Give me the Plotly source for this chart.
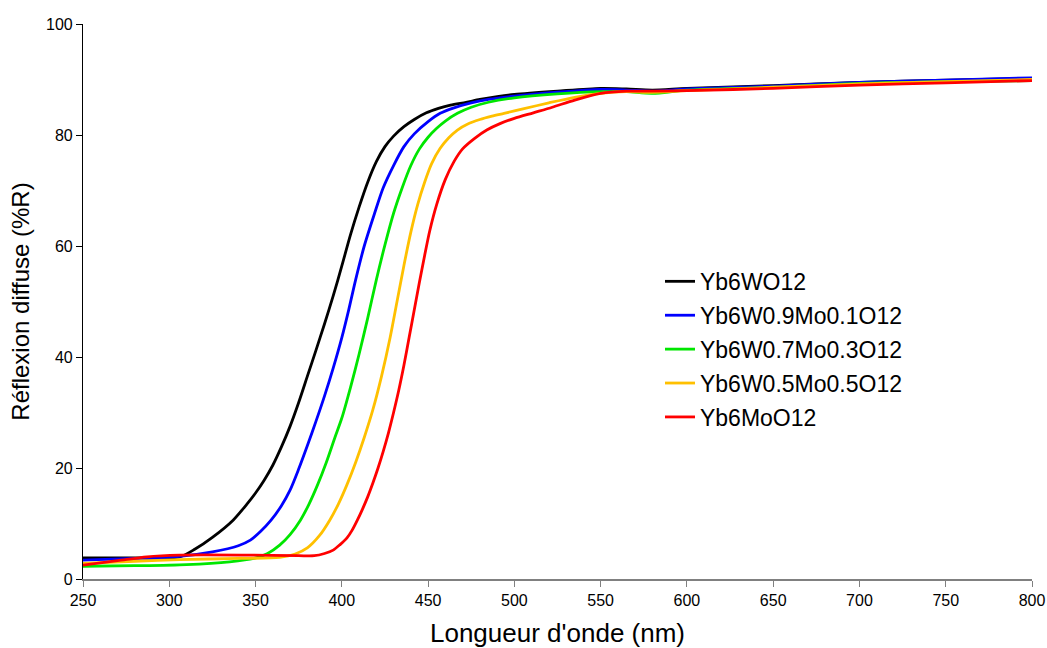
import plotly.graph_objects as go

names = ["Yb6WO12", "Yb6W0.9Mo0.1O12", "Yb6W0.7Mo0.3O12", "Yb6W0.5Mo0.5O12", "Yb6MoO12"]
colors = ["#000000", "#0000FF", "#00E600", "#FFC000", "#FF0000"]

x_black = [250, 280, 306, 315, 325, 337, 345, 350, 355, 360, 365, 370, 375, 380, 385, 390, 395, 400, 405, 410, 415, 420, 425, 430, 436, 442, 449, 456, 463, 472, 480, 490, 500, 525, 550, 565, 580, 600, 650, 700, 750, 800]
y_black = [3.8, 3.8, 4.0, 5.4, 7.5, 10.6, 13.5, 15.5, 17.8, 20.5, 23.8, 27.5, 31.8, 36.5, 41.2, 46.0, 51.0, 56.4, 62.0, 67.0, 71.5, 75.2, 77.9, 79.8, 81.5, 82.8, 84.0, 84.8, 85.4, 85.9, 86.4, 86.9, 87.3, 87.9, 88.4, 88.3, 88.1, 88.4, 88.9, 89.5, 89.9, 90.2]

x_blue = [250, 280, 306, 325, 340, 347, 353, 359, 365, 370, 375, 380, 385, 390, 395, 400, 404, 408, 413, 419, 424, 430, 436, 442, 450, 457, 465, 475, 485, 500, 525, 550, 565, 580, 600, 650, 700, 750, 800]
y_blue = [3.4, 3.7, 4.1, 4.9, 6.0, 7.0, 8.6, 10.6, 13.2, 16.0, 19.8, 24.0, 28.4, 33.0, 38.0, 43.5, 48.5, 53.9, 60.0, 65.9, 70.5, 74.5, 77.9, 80.2, 82.4, 83.9, 84.9, 85.8, 86.4, 87.0, 87.7, 88.2, 88.1, 87.9, 88.3, 88.8, 89.5, 89.9, 90.3]

x_green = [250, 280, 310, 335, 349, 357, 364, 370, 376, 381, 386, 391, 396, 400, 405, 410, 415, 420, 425, 430, 435, 440, 445, 450, 455, 460, 467, 475, 485, 500, 525, 550, 565, 580, 600, 650, 700, 750, 800]
y_green = [2.3, 2.4, 2.6, 3.1, 3.7, 4.6, 6.1, 8.0, 10.6, 13.5, 17.0, 21.0, 25.5, 29.0, 34.5, 40.5, 47.0, 53.9, 60.2, 65.9, 70.5, 74.5, 77.5, 79.6, 81.2, 82.5, 83.9, 85.0, 85.9, 86.7, 87.4, 87.8, 87.8, 87.5, 88.1, 88.6, 89.3, 89.6, 89.8]

x_yellow = [250, 280, 306, 340, 364, 373, 380, 387, 393, 398, 403, 408, 413, 418, 423, 428, 432, 436, 440, 444, 448, 452, 457, 462, 467, 473, 480, 487, 494, 505, 520, 535, 550, 565, 580, 600, 650, 700, 750, 800]
y_yellow = [2.8, 3.2, 3.5, 3.7, 3.9, 4.5, 5.6, 7.8, 10.6, 13.5, 17.0, 21.0, 25.5, 30.5, 36.5, 43.5, 50.0, 56.5, 62.5, 67.5, 71.5, 74.8, 77.6, 79.5, 80.9, 82.0, 82.8, 83.4, 83.9, 84.7, 85.8, 86.8, 87.5, 87.8, 87.7, 88.0, 88.6, 89.2, 89.6, 90.0]

x_red = [250, 270, 287, 306, 346, 375, 384, 390, 395, 399, 403, 406, 409, 412, 415, 418, 421, 424, 427, 430, 433, 436, 439, 442, 445, 448, 451, 455, 460, 465, 470, 477, 484, 492, 500, 511, 522, 535, 550, 565, 580, 600, 650, 700, 750, 800]
y_red = [2.5, 3.3, 4.0, 4.3, 4.3, 4.2, 4.2, 4.6, 5.2, 6.2, 7.4, 8.8, 10.6, 12.6, 14.8, 17.3, 20.0, 23.0, 26.3, 30.0, 34.0, 38.5, 43.5, 48.5, 53.5, 58.3, 62.8, 67.5, 72.0, 75.2, 77.5, 79.4, 80.9, 82.1, 83.0, 84.0, 85.0, 86.3, 87.5, 87.9, 87.9, 88.0, 88.4, 89.0, 89.4, 89.8]

xs = [x_black, x_blue, x_green, x_yellow, x_red]
ys = [y_black, y_blue, y_green, y_yellow, y_red]

fig = go.Figure()
for n, c, xv, yv in zip(names, colors, xs, ys):
    fig.add_trace(go.Scatter(x=xv, y=yv, mode="lines", name=n, legendgroup=n,
                             line=dict(color=c, width=2.8, shape="spline", smoothing=0.8)))

font = "Liberation Sans, Arial, sans-serif"
fig.update_layout(
    width=1047, height=648,
    margin=dict(l=83, r=15, t=24, b=69),
    plot_bgcolor="white", paper_bgcolor="white",
    font=dict(family=font, color="black"),
    showlegend=True,
    legend=dict(x=0.608, y=0.575, xanchor="left", yanchor="top",
                font=dict(size=23, family=font), bgcolor="rgba(0,0,0,0)",
                tracegroupgap=1, itemwidth=30),
    xaxis=dict(range=[250, 800], tickvals=[250, 300, 350, 400, 450, 500, 550, 600, 650, 700, 750, 800],
               showgrid=False, zeroline=False, showline=True, linecolor="#808080", linewidth=1.5,
               ticks="outside", ticklen=6, tickcolor="#808080", tickfont=dict(size=16),
               automargin=False,
               title=dict(text="Longueur d'onde (nm)", font=dict(size=26), standoff=17)),
    yaxis=dict(range=[0, 100], tickvals=[0, 20, 40, 60, 80, 100],
               showgrid=False, zeroline=False, showline=True, linecolor="#000000", linewidth=1.2,
               ticks="outside", ticklen=6, tickcolor="#000000", tickfont=dict(size=16),
               automargin=False,
               title=dict(text="Réflexion diffuse (%R)", font=dict(size=24), standoff=9)),
)
fig.write_html("out.html", config={"displayModeBar": False},
               post_script="document.body.style.margin='0';document.body.style.padding='0';")
